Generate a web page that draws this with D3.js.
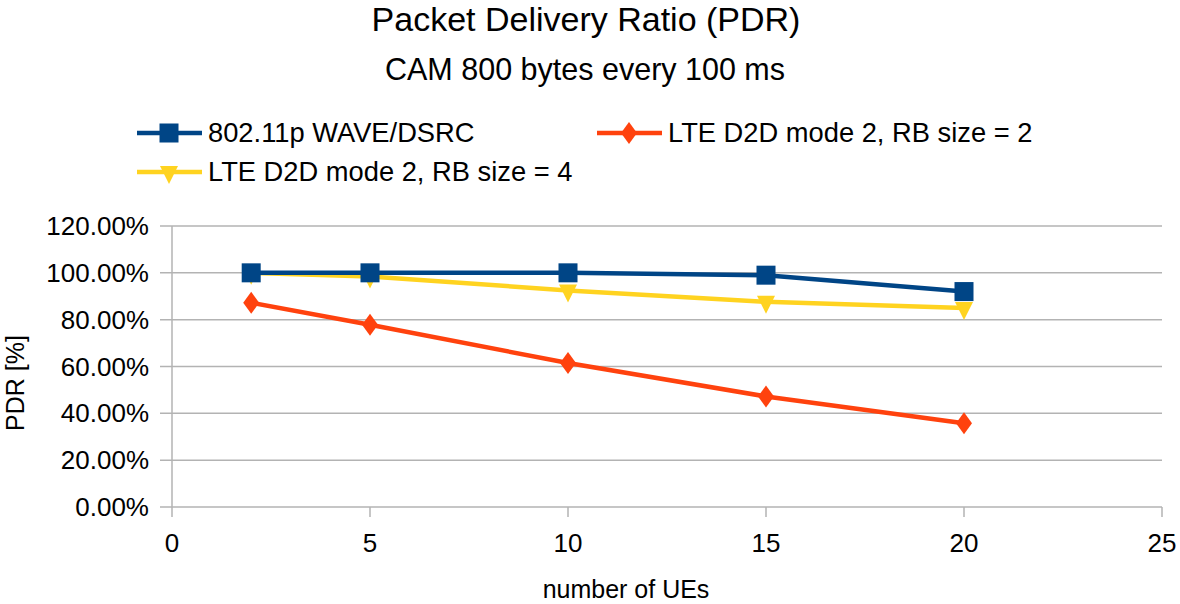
<!DOCTYPE html>
<html><head><meta charset="utf-8">
<script src="https://cdn.jsdelivr.net/npm/d3@7"></script>
<style>body{margin:0;background:#fff}svg{display:block;font-family:"Liberation Sans",Arial,sans-serif}</style>
</head><body>
<svg id="c" width="1180" height="604"></svg>
<script>
const xValues = [2, 5, 10, 15, 20];
const wave = [1.00, 1.00, 1.00, 0.99, 0.92];
const lteRb2 = [0.872, 0.778, 0.615, 0.472, 0.358];
const lteRb4 = [1.00, 0.984, 0.925, 0.876, 0.850];
const yTicks = [0, 0.2, 0.4, 0.6, 0.8, 1.0, 1.2];
const xTicks = [0, 5, 10, 15, 20, 25];
const seriesNames = ["802.11p WAVE/DSRC", "LTE D2D mode 2, RB size = 2", "LTE D2D mode 2, RB size = 4"];
const colors = ["#004586", "#ff420e", "#ffd320"];

const svg = d3.select("#c");
const L = 172, R = 1162, T = 226, B = 507;
const x = d3.scaleLinear().domain([0, 25]).range([L, R]);
const y = d3.scaleLinear().domain([0, 1.2]).range([B, T]);

svg.append("text").attr("x", 586).attr("y", 31).attr("text-anchor", "middle").attr("font-size", 34).text("Packet Delivery Ratio (PDR)");
svg.append("text").attr("x", 585).attr("y", 80).attr("text-anchor", "middle").attr("font-size", 30.5).text("CAM 800 bytes every 100 ms");

// grid
svg.append("g").selectAll("line").data(yTicks).join("line")
  .attr("x1", L - 12).attr("x2", R).attr("y1", d => y(d)).attr("y2", d => y(d))
  .attr("stroke", "#b3b3b3").attr("stroke-width", 1.5);
svg.append("line").attr("x1", L).attr("x2", L).attr("y1", T).attr("y2", B + 10).attr("stroke", "#b3b3b3").attr("stroke-width", 1.5);
svg.append("g").selectAll("line").data(xTicks.slice(1)).join("line")
  .attr("x1", d => x(d)).attr("x2", d => x(d)).attr("y1", B).attr("y2", B + 10)
  .attr("stroke", "#b3b3b3").attr("stroke-width", 1.5);

// axis labels
svg.append("g").selectAll("text").data(yTicks).join("text")
  .attr("x", 149).attr("y", d => y(d) + 9).attr("text-anchor", "end").attr("font-size", 26)
  .text(d => d3.format(".2%")(d));
svg.append("g").selectAll("text").data(xTicks).join("text")
  .attr("x", d => x(d)).attr("y", 552).attr("text-anchor", "middle").attr("font-size", 26)
  .text(d => d);
svg.append("text").attr("x", 626).attr("y", 598).attr("text-anchor", "middle").attr("font-size", 25).text("number of UEs");
svg.append("text").attr("transform", "translate(24,383) rotate(-90)").attr("text-anchor", "middle").attr("font-size", 25).text("PDR [%]");

function marker(g, i, cx, cy) {
  if (i === 0) {
    g.append("rect").attr("x", cx - 9.5).attr("y", cy - 9.5).attr("width", 19).attr("height", 19).attr("fill", colors[0]);
  } else if (i === 1) {
    g.append("path").attr("d", `M${cx},${cy-11}L${cx+8},${cy}L${cx},${cy+11}L${cx-8},${cy}Z`).attr("fill", colors[1]);
  } else {
    g.append("path").attr("d", `M${cx-9},${cy-6}L${cx+9},${cy-6}L${cx},${cy+12}Z`).attr("fill", colors[2]);
  }
}

const data = [wave, lteRb2, lteRb4];
const line = d3.line().x((d, i) => x(xValues[i])).y(d => y(d));
const order = [1, 2, 0];
order.forEach(si => {
  const g = svg.append("g");
  g.append("path").attr("d", line(data[si])).attr("fill", "none").attr("stroke", colors[si]).attr("stroke-width", 4.5);
  data[si].forEach((v, i) => marker(g, si, x(xValues[i]), y(v)));
});

// legend
const legPos = [[137, 133], [597, 133], [137, 172]];
seriesNames.forEach((n, i) => {
  const [lx, ly] = legPos[i];
  const g = svg.append("g");
  g.append("line").attr("x1", lx).attr("x2", lx + 65).attr("y1", ly).attr("y2", ly).attr("stroke", colors[i]).attr("stroke-width", 4.5);
  marker(g, i, lx + 32, ly);
  g.append("text").attr("x", lx + 71).attr("y", ly + 9).attr("font-size", 27.3).text(n);
});
</script>
</body></html>
